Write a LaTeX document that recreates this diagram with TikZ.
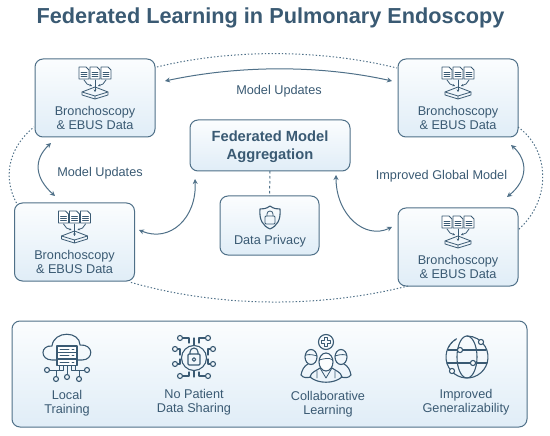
\documentclass[tikz,border=0pt]{standalone}
\usepackage{fontspec}
\setmainfont{Liberation Sans}
\usetikzlibrary{arrows.meta,calc}
\definecolor{inkblue}{HTML}{3A5A73}
\definecolor{edgeblue}{HTML}{4F7088}
\definecolor{topfill}{HTML}{FBFDFE}
\definecolor{lowfill}{HTML}{E0EDF7}
\tikzset{
	panelbox/.style={draw=edgeblue,line width=1pt,rounded corners=8pt,top color=topfill,bottom color=lowfill,inner sep=0pt,outer sep=0pt},
	boxtext/.style={text=inkblue,align=center,font=\fontsize{12.7}{14}\selectfont},
	headtext/.style={text=inkblue,align=center,font=\bfseries\fontsize{14.7}{18}\selectfont},
	smalltext/.style={text=inkblue,align=center,font=\fontsize{12.7}{14.5}\selectfont},
	twoway/.style={draw=edgeblue,line width=1pt,{Stealth[length=5pt,width=5pt]}-{Stealth[length=5pt,width=5pt]}},
	dotlink/.style={draw=edgeblue,line width=1pt,dash pattern=on 1.4pt off 2pt},
	iconline/.style={draw=inkblue,line width=0.8pt,line join=round,line cap=round},
	iconthick/.style={draw=inkblue,line width=1.1pt,line join=round,line cap=round},
	pics/dataicon/.style={code={
		\foreach \dx in {-11,0,11} {
			\draw[iconline,fill=white] (\dx-5,-16) -- (\dx+2,-16) -- (\dx+5,-13) -- (\dx+5,-4) -- (\dx-5,-4) -- cycle;
			\draw[iconline] (\dx-3,-11) -- (\dx+3,-11) (\dx-3,-9) -- (\dx+3,-9) (\dx-3,-7) -- (\dx+3,-7);
		}
		\draw[iconline] (-13,9) -- (0,4) -- (13,9) -- (0,13) -- cycle;
		\draw[iconline] (-13,9) -- (-13,12) -- (0,16) -- (13,12) -- (13,9) (0,13) -- (0,16);
		\draw[iconline,-{Stealth[length=2.5pt,width=2.5pt]}] (-11,-3) -- (-8,1) -- (-3,3);
		\draw[iconline,-{Stealth[length=2.5pt,width=2.5pt]}] (11,-3) -- (8,1) -- (3,3);
		\draw[iconline,-{Stealth[length=2.5pt,width=2.5pt]}] (0,-3) -- (0,9);
	}},
	pics/shieldicon/.style={code={
		\draw[iconthick] (0,-11) .. controls (4,-8) and (7,-8) .. (10,-8) .. controls (11,3) and (7,9) .. (0,12) .. controls (-7,9) and (-11,3) .. (-10,-8) .. controls (-7,-8) and (-4,-8) .. (0,-11) -- cycle;
		\draw[iconline,rounded corners=1pt] (-5,-1) rectangle (5,7);
		\draw[iconline] (-3,-1) -- (-3,-3) arc[start angle=180,delta angle=180,radius=3] -- (3,-1);
	}},
	pics/cloudicon/.style={code={
		\draw[iconthick] (-10,9) -- (-15,9) .. controls (-27,9) and (-27,-6) .. (-15,-5) .. controls (-13,-21) and (13,-20) .. (13,-6) .. controls (27,-7) and (27,9) .. (15,9) -- (10,9);
		\foreach \rowy in {-5,1.5,8} {
			\draw[iconthick,fill=white] (-10,\rowy) rectangle (10,\rowy+6.5);
			\draw[iconline] (-7,\rowy+3.2) -- (2,\rowy+3.2) (5,\rowy+3.2) -- (7,\rowy+3.2);
		}
		\draw[iconline] (0,14.5) -- (0,23.5) (-4,14.5) -- (-4,19) -- (-11,19) -- (-11,25.5) (4,14.5) -- (4,19) -- (12,19) -- (12,25.5) (-8,14.5) -- (-8,19) -- (-17,19) (8,14.5) -- (8,19) -- (17,19);
		\foreach \nx/\ny in {-20/19,-11/28,0/26,12/28,20/19} {
			\draw[iconthick] (\nx,\ny) circle[radius=2.5];
		}
	}},
	pics/chipicon/.style={code={
		\draw[iconthick] (0,0) circle[radius=12.5];
		\draw[iconthick,rounded corners=1pt] (-6,-4) rectangle (6,7);
		\draw[iconthick] (-4,-4) -- (-4,-6) arc[start angle=180,delta angle=180,radius=4] -- (4,-4);
		\draw[iconthick] (0,1.5) circle[radius=1.8];
		\draw[iconthick] (0,-13) -- (0,-20) (0,13) -- (0,19);
		\foreach \sx in {-1,1} {
			\draw[iconthick] (\sx*5,-15) -- (\sx*5,-20) -- (\sx*11,-20);
			\draw[iconthick] (\sx*5,14) -- (\sx*5,18) -- (\sx*11,18);
			\draw[iconthick] (\sx*14,-3) -- (\sx*14,-9) -- (\sx*16,-9);
			\draw[iconthick] (\sx*14,1) -- (\sx*14,6) -- (\sx*16,6);
			\draw[iconthick] (\sx*14,-20) circle[radius=2.5] (\sx*14,18) circle[radius=2.5] (\sx*19,-9) circle[radius=2.5] (\sx*19,6) circle[radius=2.5];
		}
	}},
	pics/teamicon/.style={code={
		\draw[iconthick] (0,-20) circle[radius=7.5];
		\draw[iconthick] (-1.8,-24.5) -- (1.8,-24.5) -- (1.8,-21.8) -- (4.5,-21.8) -- (4.5,-18.2) -- (1.8,-18.2) -- (1.8,-15.5) -- (-1.8,-15.5) -- (-1.8,-18.2) -- (-4.5,-18.2) -- (-4.5,-21.8) -- (-1.8,-21.8) -- cycle;
		\foreach \sx in {-1,1} {
			\draw[iconthick] (\sx*15,-5) ellipse[x radius=6,y radius=7.5];
			\draw[iconline] (\sx*9,-6) .. controls (\sx*12,-7) and (\sx*16,-8) .. (\sx*20,-7);
			\draw[iconthick] (\sx*18,2) .. controls (\sx*22,4) and (\sx*24,8) .. (\sx*25,13) .. controls (\sx*23,16) and (\sx*19,16) .. (\sx*15,15);
		}
		\draw[iconthick,fill=topfill] (0,0) ellipse[x radius=7,y radius=9];
		\draw[iconline] (-7,-2) .. controls (-3,-3) and (3,-5) .. (7,-2);
		\draw[iconthick] (-6,6) .. controls (-10,9) and (-15,10) .. (-16,15) .. controls (-8,22) and (8,22) .. (16,15) .. controls (15,10) and (10,9) .. (6,6);
		\draw[iconline] (-6,6) -- (0,16) -- (6,6) (-9,9) -- (-9,16) (9,9) -- (9,16);
	}},
}
\begin{document}
\begin{tikzpicture}[x=1pt,y=-1pt]
	\useasboundingbox (0,0) rectangle (550,436);
	\node[text=inkblue,font=\bfseries\fontsize{21.7}{24}\selectfont] (title) at (270.5,18) {Federated Learning in Pulmonary Endoscopy};

	% Data sites
	\foreach \name/\cx/\cy in {tl/95/98,bl/74.5/242,tr/458/98,br/458/247} {
		\node[panelbox,minimum width=120pt,minimum height=78pt] (\name) at (\cx,\cy) {};
		\node[boxtext] (\name text) at (\cx,\cy+20) {Bronchoscopy\\\& EBUS Data};
		\pic at (\cx,\cy-15) {dataicon};
	}

	% Centre
	\node[panelbox,minimum width=160pt,minimum height=51pt] (fed) at (270,145.5) {};
	\node[headtext] (fedtext) at (270,146.5) {Federated Model\\Aggregation};
	\node[panelbox,minimum width=99pt,minimum height=59pt] (privacy) at (269.5,225.5) {};
	\node[smalltext] (privacytext) at (270,241) {Data Privacy};
	\pic at (270,217) {shieldicon};
	\draw[dotlink,dash pattern=on 2.5pt off 2.5pt] (fed.south) -- (privacy.north);

	% Arrows between boxes
	\draw[twoway] ($(tl.east)+(10,-17)$) .. controls (240,65) and (320,65) .. ($(tr.west)+(-6,-17)$);
	\draw[twoway] ($(tl.south)+(-44,6)$) .. controls (33,160) and (35,178) .. ($(bl.north)+(-19.5,-7)$);
	\draw[twoway] ($(bl.east)+(4.5,-12)$) .. controls (170,243) and (197,218) .. ($(fed.south)+(-75,8)$);
	\draw[twoway] ($(fed.south)+(66,4)$) .. controls (336,215) and (365,240) .. ($(br.west)+(-6,-20)$);
	\draw[twoway] ($(tr.south)+(53,8)$) .. controls (528,160) and (528,180) .. ($(br.north)+(49,-11)$);

	% Dotted ring
	\draw[dotlink] ($(tl.north east)+(2,8)$) .. controls (230,49) and (320,49) .. ($(tr.north west)+(-1,9)$);
	\draw[dotlink] ($(tr.south east)+(0,-10)$) .. controls (550,150) and (552,200) .. ($(br.east)+(0,-17)$);
	\draw[dotlink] ($(br.south west)+(10,0)$) .. controls (320,308) and (220,308) .. ($(bl.south east)+(-5,1)$);
	\draw[dotlink] ($(bl.north west)+(2,0)$) .. controls (4,180) and (6,150) .. ($(tl.south west)+(-1,-10)$);

	\node[smalltext] (toplabel) at (279,91) {Model Updates};
	\node[smalltext] (leftlabel) at (100,173) {Model Updates};
	\node[smalltext] (rightlabel) at (441.5,176) {Improved Global Model};

	% Bottom panel
	\node[panelbox,minimum width=515pt,minimum height=106pt] (benefits) at (269.5,374) {};
	\pic at (67,351) {cloudicon};
	\pic at (194,358) {chipicon};
	\pic at (326,362) {teamicon};
	% Globe
	\draw[iconthick] (467,357) ++(240:21) arc[start angle=240,delta angle=-330,radius=21];
	\draw[iconthick,dash pattern=on 1.5pt off 2.5pt] (467,357) ++(210:21) arc[start angle=210,delta angle=30,radius=21];
	\draw[iconthick] (467,357) ellipse[x radius=10,y radius=21];
	\draw[iconthick] (448,350) -- (486,350) (447,363) -- (487,363);
	\foreach \nx/\ny in {460/350,473/363,481/342,452/371} {
		\draw[iconthick,fill=topfill] (\nx,\ny) circle[radius=2.6];
	}
	\node[smalltext] (localtext) at (67,403) {Local\\Training};
	\node[smalltext] (sharingtext) at (194,402) {No Patient\\Data Sharing};
	\node[smalltext] (collabtext) at (328,404) {Collaborative\\Learning};
	\node[smalltext] (generaltext) at (466,402) {Improved\\Generalizability};
\end{tikzpicture}
\end{document}
